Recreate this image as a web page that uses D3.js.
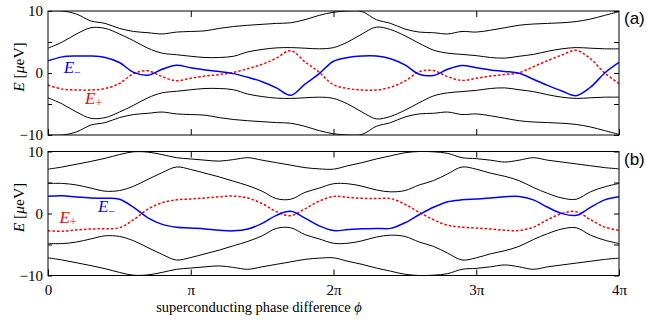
<!DOCTYPE html>
<html><head><meta charset="utf-8">
<script src="https://cdn.jsdelivr.net/npm/d3@7/dist/d3.min.js"></script>
<style>body{margin:0;background:#fff} svg{display:block}</style>
</head><body><svg id="c" width="647" height="331"></svg>
<script>
// phase grid in units of pi
const phi = [0,0.1,0.2,0.3,0.4,0.5,0.6,0.7,0.8,0.9,1.0,1.1,1.2,1.3,1.4,1.5,1.6,1.7,1.8,1.9,2.0,2.1,2.2,2.3,2.4,2.5,2.6,2.7,2.8,2.9,3.0,3.1,3.2,3.3,3.4,3.5,3.6,3.7,3.8,3.9,4.0];

// panel (a)
const aUpper1 = [10,10,9.5,8.4,8.0,7.2,6.7,6.5,6.3,6.6,6.7,6.8,7.2,7.5,7.7,7.85,8.0,8.1,8.6,9.3,9.8,10,9.9,8.6,8.0,7.1,6.6,6.5,6.3,6.7,6.6,6.9,7.3,7.7,7.9,8.0,8.1,8.3,8.7,9.3,9.9];
const aUpper2 = [4.0,5.0,6.3,7.3,7.2,6.3,5.2,4.0,3.2,2.95,2.7,2.5,2.5,2.7,3.4,3.8,4.05,4.1,4.0,3.9,4.1,5.0,6.3,7.4,7.0,6.0,4.8,3.7,3.2,3.0,2.8,2.5,2.4,2.7,3.0,3.5,3.9,4.1,4.0,3.9,3.9];
const aLower2 = [-4.0,-5.0,-6.3,-7.3,-7.2,-6.3,-5.2,-4.0,-3.2,-2.95,-2.7,-2.5,-2.5,-2.7,-3.4,-3.8,-4.05,-4.1,-4.0,-3.9,-4.1,-5.0,-6.3,-7.4,-7.0,-6.0,-4.8,-3.7,-3.2,-3.0,-2.8,-2.5,-2.4,-2.7,-3.0,-3.5,-3.9,-4.1,-4.0,-3.9,-3.9];
const aLower1 = [-10,-10,-9.5,-8.4,-8.0,-7.2,-6.7,-6.5,-6.3,-6.6,-6.7,-6.8,-7.2,-7.5,-7.7,-7.85,-8.0,-8.1,-8.6,-9.3,-9.8,-10,-9.9,-8.6,-8.0,-7.1,-6.6,-6.5,-6.3,-6.7,-6.6,-6.9,-7.3,-7.7,-7.9,-8.0,-8.1,-8.3,-8.7,-9.3,-9.9];
const aMinus = [1.95,2.6,2.74,2.74,2.5,1.7,0.1,-0.35,0.6,1.25,0.85,0.5,0.25,-0.1,-0.7,-1.4,-2.4,-3.6,-1.8,-0.1,1.9,2.5,2.74,2.74,2.3,1.3,-0.2,-0.4,0.6,1.2,0.85,0.5,0.25,-0.05,-1.0,-2.0,-2.9,-3.65,-2.3,0.0,1.7];
const aPlus = [-1.95,-2.6,-2.74,-2.74,-2.5,-1.7,-0.1,0.35,-0.6,-1.25,-0.85,-0.5,-0.25,0.1,0.7,1.4,2.4,3.6,1.8,0.1,-1.9,-2.5,-2.74,-2.74,-2.3,-1.3,0.2,0.4,-0.6,-1.2,-0.85,-0.5,-0.25,0.05,1.0,2.0,2.9,3.65,2.3,0.0,-1.7];

// panel (b)
const bUpper1 = [7.15,7.5,7.95,8.4,8.9,9.5,9.95,9.9,9.5,9.0,8.8,8.6,8.45,8.7,9.0,8.6,8.2,7.8,7.4,7.2,7.15,7.7,8.2,8.8,9.3,9.8,10,9.95,9.7,9.0,8.85,8.6,8.3,8.6,9.0,8.6,8.3,8.0,7.7,7.4,7.2];
const bUpper2 = [4.85,4.85,4.6,4.1,3.6,3.7,4.4,5.5,6.6,7.5,7.1,6.5,5.9,5.2,4.5,3.6,2.4,2.3,3.4,4.1,4.8,4.8,4.4,3.8,3.5,3.7,4.6,5.3,6.4,7.5,7.15,6.5,6.0,5.3,4.2,3.25,2.5,2.3,3.5,4.3,4.85];
const bLower2 = [-4.85,-4.85,-4.6,-4.1,-3.6,-3.7,-4.4,-5.5,-6.6,-7.5,-7.1,-6.5,-5.9,-5.2,-4.5,-3.6,-2.4,-2.3,-3.4,-4.1,-4.8,-4.8,-4.4,-3.8,-3.5,-3.7,-4.6,-5.3,-6.4,-7.5,-7.15,-6.5,-6.0,-5.3,-4.2,-3.25,-2.5,-2.3,-3.5,-4.3,-4.85];
const bLower1 = [-7.15,-7.5,-7.95,-8.4,-8.9,-9.5,-9.95,-9.9,-9.5,-9.0,-8.8,-8.6,-8.45,-8.7,-9.0,-8.6,-8.2,-7.8,-7.4,-7.2,-7.15,-7.7,-8.2,-8.8,-9.3,-9.8,-10,-9.95,-9.7,-9.0,-8.85,-8.6,-8.3,-8.6,-9.0,-8.6,-8.3,-8.0,-7.7,-7.4,-7.2];
const bMinus = [2.8,2.85,2.65,2.5,2.45,2.3,1.0,-0.7,-1.75,-2.2,-2.35,-2.5,-2.7,-2.8,-2.5,-1.6,-0.3,0.35,-0.75,-2.0,-2.75,-2.6,-2.45,-2.4,-2.4,-1.5,-0.2,1.0,1.9,2.2,2.35,2.5,2.7,2.75,2.2,1.0,0.0,-0.3,1.0,2.2,2.7];
const bPlus = [-2.8,-2.85,-2.65,-2.5,-2.45,-2.3,-1.0,0.7,1.75,2.2,2.35,2.5,2.7,2.8,2.5,1.6,0.3,-0.35,0.75,2.0,2.75,2.6,2.45,2.4,2.4,1.5,0.2,-1.0,-1.9,-2.2,-2.35,-2.5,-2.7,-2.75,-2.2,-1.0,0.0,0.3,-1.0,-2.2,-2.7];

const yTicks = [-10,-5,0,5,10];
const yLabelled = [-10,0,10];
const xTicks = [0,1,2,3,4];
const xTickLabels = ["0","π","2π","3π","4π"];

const svg = d3.select("#c");
const serif = "'Liberation Serif','DejaVu Serif',serif";
const x = d3.scaleLinear().domain([0,4]).range([48,619]);

const panels = [
  {id:"a", top:11, bottom:135, black:[aUpper1,aUpper2,aLower2,aLower1], minus:aMinus, plus:aPlus, tag:"(a)",
   mLab:[0.11,0.05], pLab:[0.26,-5.0], xLabels:false},
  {id:"b", top:151.5, bottom:275.5, black:[bUpper1,bUpper2,bLower2,bLower1], minus:bMinus, plus:bPlus, tag:"(b)",
   mLab:[0.35,0.2], pLab:[0.08,-1.55], xLabels:true}
];

panels.forEach(p => {
  const y = d3.scaleLinear().domain([-10,10]).range([p.bottom,p.top]);
  const g = svg.append("g");
  const clipId = "clip"+p.id;
  svg.append("clipPath").attr("id",clipId).append("rect")
    .attr("x",x(0)).attr("y",p.top).attr("width",x(4)-x(0)).attr("height",p.bottom-p.top);

  const line = d3.line().x((d,i)=>x(phi[i])).y(d=>y(d)).curve(d3.curveCatmullRom.alpha(0.5));
  const lines = g.append("g").attr("clip-path",`url(#${clipId})`);
  p.black.forEach(s => lines.append("path").attr("d",line(s)).attr("fill","none").attr("stroke","#000").attr("stroke-width",1));
  lines.append("path").attr("d",line(p.plus)).attr("fill","none").attr("stroke","#ff0000").attr("stroke-width",1.5).attr("stroke-dasharray","2.5,2");
  lines.append("path").attr("d",line(p.minus)).attr("fill","none").attr("stroke","#0000ff").attr("stroke-width",1.5);

  // frame
  g.append("rect").attr("x",x(0)).attr("y",p.top).attr("width",x(4)-x(0)).attr("height",p.bottom-p.top)
    .attr("fill","none").attr("stroke","#000").attr("stroke-width",1);

  // axes
  const left = g.append("g").attr("transform",`translate(${x(0)},0)`)
    .call(d3.axisLeft(y).tickValues(yTicks).tickSize(-4).tickSizeOuter(0).tickPadding(5)
      .tickFormat(d => yLabelled.includes(d) ? (d<0 ? "−"+Math.abs(d) : String(d)) : ""));
  const right = g.append("g").attr("transform",`translate(${x(4)},0)`)
    .call(d3.axisRight(y).tickValues(yTicks).tickSize(-5).tickSizeOuter(0).tickFormat(""));
  const top = g.append("g").attr("transform",`translate(0,${p.top})`)
    .call(d3.axisTop(x).tickValues([1,2,3]).tickSize(-6).tickSizeOuter(0).tickFormat(""));
  const bottom = g.append("g").attr("transform",`translate(0,${p.bottom})`)
    .call(d3.axisBottom(x).tickValues(xTicks).tickSize(-6).tickSizeOuter(0).tickPadding(9)
      .tickFormat((d,i) => p.xLabels ? xTickLabels[i] : ""));
  [left,right,top,bottom].forEach(a => {
    a.select(".domain").remove();
    a.selectAll("line").attr("stroke","#000");
    a.selectAll("text").attr("font-family",serif).attr("font-size",15).attr("fill","#000");
  });

  // y axis title
  const yt = g.append("text").attr("transform",`translate(24,${(p.top+p.bottom)/2-6}) rotate(-90)`)
    .attr("text-anchor","middle").attr("font-family",serif).attr("font-size",15.5).attr("fill","#000");
  yt.append("tspan").attr("font-style","italic").text("E");
  yt.append("tspan").text(" [");
  yt.append("tspan").attr("font-style","italic").text("μ");
  yt.append("tspan").text("eV]");

  // curve labels
  const lm = g.append("text").attr("x",x(p.mLab[0])).attr("y",y(p.mLab[1]))
    .attr("font-family",serif).attr("font-size",17).attr("fill","#0000ff");
  lm.append("tspan").attr("font-style","italic").text("E");
  lm.append("tspan").attr("font-size",12).attr("dy",3).text("−");
  const lp = g.append("text").attr("x",x(p.pLab[0])).attr("y",y(p.pLab[1]))
    .attr("font-family",serif).attr("font-size",17).attr("fill","#ff0000");
  lp.append("tspan").attr("font-style","italic").text("E");
  lp.append("tspan").attr("font-size",12).attr("dy",3).text("+");

  // panel tag
  g.append("text").attr("x",624).attr("y",p.top+13).attr("font-family","'Liberation Sans',Arial,sans-serif")
    .attr("font-size",17).attr("fill","#000").text(p.tag);
});

svg.append("text").attr("x",259).attr("y",312).attr("text-anchor","middle")
  .attr("font-family",serif).attr("font-size",14.5).attr("fill","#000")
  .html("superconducting phase difference <tspan font-style='italic'>ϕ</tspan>");
</script>
</body></html>
